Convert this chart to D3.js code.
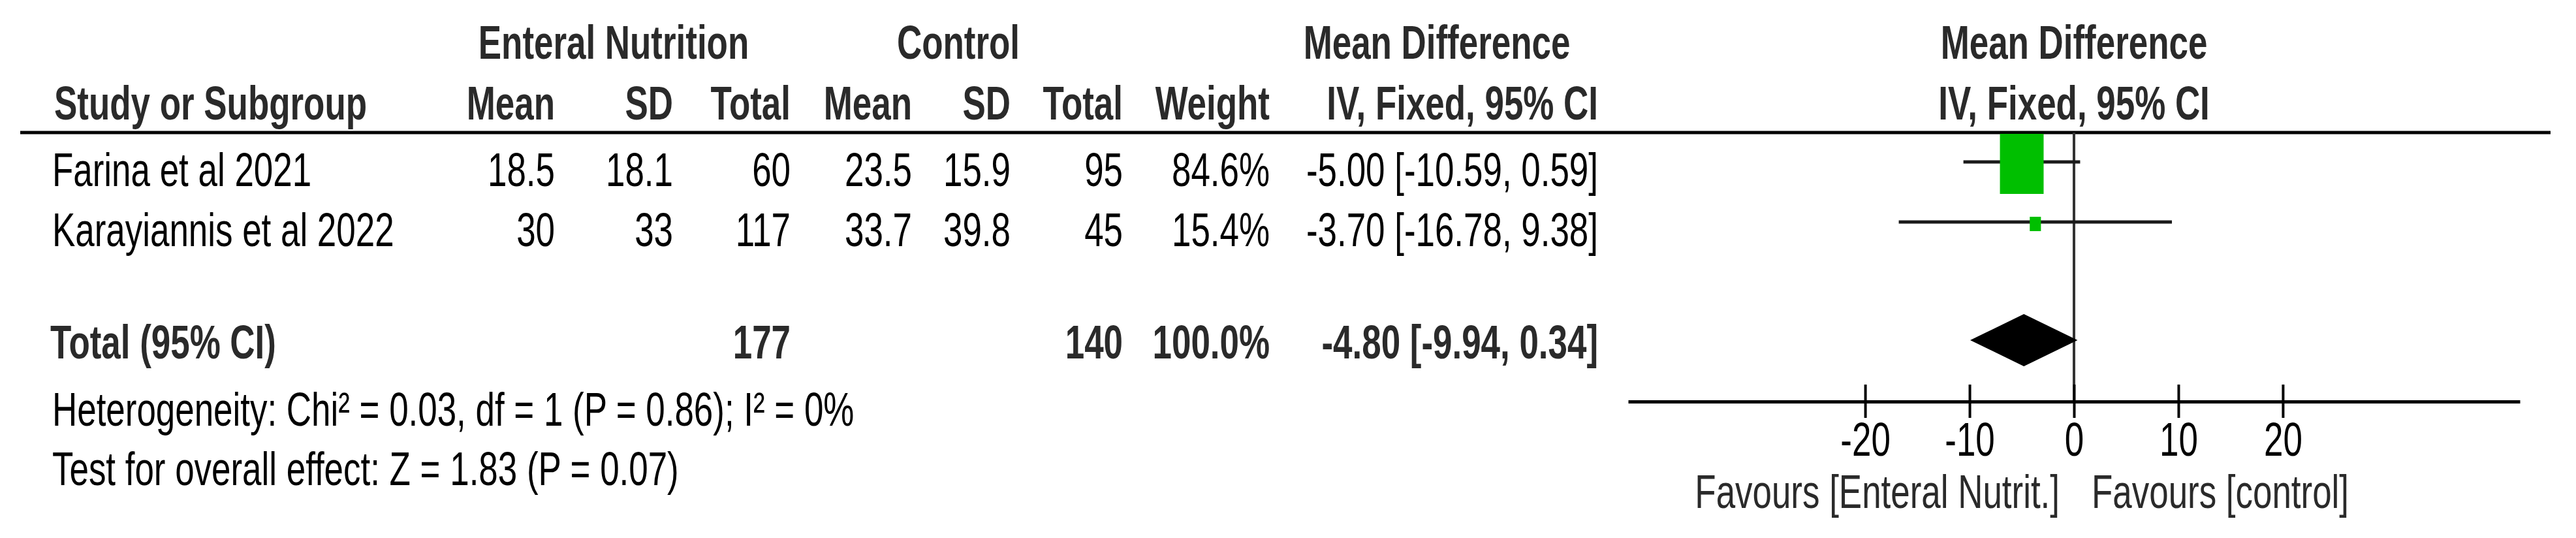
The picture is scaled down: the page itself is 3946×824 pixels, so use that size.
<!DOCTYPE html>
<html>
<head>
<meta charset="utf-8">
<script src="https://cdn.jsdelivr.net/npm/d3@7"></script>
<style>
  html, body { margin: 0; padding: 0; background: #fff; }
  svg text { font-family: "Liberation Sans", Arial, sans-serif; font-size: 72px; }
</style>
</head>
<body>
<svg id="chart"></svg>
<script>
//----------------------------//
//            DATA            //
//----------------------------//
const studies = ["Farina et al 2021", "Karayiannis et al 2022"];
const enMean = [18.5, 30];
const enSD = [18.1, 33];
const enTotal = [60, 117];
const ctMean = [23.5, 33.7];
const ctSD = [15.9, 39.8];
const ctTotal = [95, 45];
const weights = [84.6, 15.4];
const meanDiff = [-5.00, -3.70];
const ciLow = [-10.59, -16.78];
const ciHigh = [0.59, 9.38];

const totalLabel = "Total (95% CI)";
const totalEN = 177;
const totalCT = 140;
const totalWeight = 100.0;
const totalMD = -4.80;
const totalLow = -9.94;
const totalHigh = 0.34;

const heterogeneityText = "Heterogeneity: Chi\u00B2 = 0.03, df = 1 (P = 0.86); I\u00B2 = 0%";
const overallText = "Test for overall effect: Z = 1.83 (P = 0.07)";

const tickValues = [-20, -10, 0, 10, 20];
const favoursLeft = "Favours [Enteral Nutrit.]";
const favoursRight = "Favours [control]";

//----------------------------//
//           LAYOUT           //
//----------------------------//
const W = 3946, H = 824;
const SX = 0.735;   // narrow the font horizontally
const headColor = "#2a2a2a";

const svg = d3.select("#chart").attr("width", W).attr("height", H);
svg.append("rect").attr("width", W).attr("height", H).attr("fill", "#fff");

const txt = (x, y, s, anchor = "start", bold = false, color = "#000") =>
    svg.append("text")
        .attr("transform", `translate(${x},${y}) scale(${SX},1)`)
        .attr("text-anchor", anchor)
        .attr("font-weight", bold ? 700 : 400)
        .attr("fill", color)
        .text(s);

const fmt2 = v => v.toFixed(2);
const ciText = (m, lo, hi) => `${fmt2(m)} [${fmt2(lo)}, ${fmt2(hi)}]`;

// table columns (right aligned)
const cols = ["enMean", "enSD", "enTotal", "ctMean", "ctSD", "ctTotal", "weight", "ci"];
const colX = d3.scaleOrdinal().domain(cols).range([850, 1031, 1211, 1397, 1548, 1720, 1945, 2448]);

// row baselines
const rowY = d3.scaleLinear().domain([0, 1]).range([285, 377]);
const totalY = 549;

// forest plot scale
const x = d3.scaleLinear().domain([-42.7, 42.7]).range([2494, 3860]);
const boxW = d3.scaleLinear().domain([0, 100]).range([6, 78]);
const boxH = d3.scaleLinear().domain([0, 100]).range([6.4, 107.6]);
const headerLineY = 203;
const axisY = 615;

//----------------------------//
//           HEADERS          //
//----------------------------//
txt(940, 90, "Enteral Nutrition", "middle", true, headColor);
txt(1468, 90, "Control", "middle", true, headColor);
txt(2201, 90, "Mean Difference", "middle", true, headColor);
txt(x(0), 90, "Mean Difference", "middle", true, headColor);

txt(83, 183, "Study or Subgroup", "start", true, headColor);
txt(colX("enMean"), 183, "Mean", "end", true, headColor);
txt(colX("enSD"), 183, "SD", "end", true, headColor);
txt(colX("enTotal"), 183, "Total", "end", true, headColor);
txt(colX("ctMean"), 183, "Mean", "end", true, headColor);
txt(colX("ctSD"), 183, "SD", "end", true, headColor);
txt(colX("ctTotal"), 183, "Total", "end", true, headColor);
txt(colX("weight"), 183, "Weight", "end", true, headColor);
txt(colX("ci"), 183, "IV, Fixed, 95% CI", "end", true, headColor);
txt(x(0), 183, "IV, Fixed, 95% CI", "middle", true, headColor);

svg.append("line")
    .attr("x1", 31).attr("x2", 3907)
    .attr("y1", headerLineY).attr("y2", headerLineY)
    .attr("stroke", "#000").attr("stroke-width", 5);

//----------------------------//
//         STUDY ROWS         //
//----------------------------//
studies.forEach((s, i) => {
    const y = rowY(i);
    txt(80, y, s);
    txt(colX("enMean"), y, String(enMean[i]), "end");
    txt(colX("enSD"), y, String(enSD[i]), "end");
    txt(colX("enTotal"), y, String(enTotal[i]), "end");
    txt(colX("ctMean"), y, String(ctMean[i]), "end");
    txt(colX("ctSD"), y, String(ctSD[i]), "end");
    txt(colX("ctTotal"), y, String(ctTotal[i]), "end");
    txt(colX("weight"), y, weights[i].toFixed(1) + "%", "end");
    txt(colX("ci"), y, ciText(meanDiff[i], ciLow[i], ciHigh[i]), "end");
});

// total row
txt(77, totalY, totalLabel, "start", true, headColor);
txt(colX("enTotal"), totalY, String(totalEN), "end", true, headColor);
txt(colX("ctTotal"), totalY, String(totalCT), "end", true, headColor);
txt(colX("weight"), totalY, totalWeight.toFixed(1) + "%", "end", true, headColor);
txt(colX("ci"), totalY, ciText(totalMD, totalLow, totalHigh), "end", true, headColor);

txt(80, 652, heterogeneityText);
txt(80, 743, overallText);

//----------------------------//
//         FOREST PLOT        //
//----------------------------//
const plot = svg.append("g");

// line of no effect
plot.append("line")
    .attr("x1", x(0)).attr("x2", x(0))
    .attr("y1", headerLineY).attr("y2", axisY)
    .attr("stroke", "#333").attr("stroke-width", 4);

const rows = studies.map((s, i) => ({
    md: meanDiff[i], lo: ciLow[i], hi: ciHigh[i], w: weights[i], y: rowY(i) - 37
}));

plot.selectAll(".ci")
    .data(rows)
    .enter()
    .append("line")
    .attr("class", "ci")
    .attr("x1", d => x(d.lo))
    .attr("x2", d => x(d.hi))
    .attr("y1", d => d.y)
    .attr("y2", d => d.y)
    .attr("stroke", "#1a1a1a")
    .attr("stroke-width", 5);

plot.selectAll(".box")
    .data(rows)
    .enter()
    .append("rect")
    .attr("class", "box")
    .attr("x", d => x(d.md) - boxW(d.w) / 2)
    .attr("y", d => d.y + 3 - boxH(d.w) / 2)
    .attr("width", d => boxW(d.w))
    .attr("height", d => boxH(d.w))
    .attr("fill", "#00bf00");

// pooled diamond
const dy = totalY - 28;
plot.append("path")
    .datum({ md: totalMD, lo: totalLow, hi: totalHigh })
    .attr("d", d => `M${x(d.lo)},${dy}L${x(d.md)},${dy - 40}L${x(d.hi)},${dy}L${x(d.md)},${dy + 40}Z`)
    .attr("fill", "#000");

// axis
const axis = plot.append("g")
    .attr("transform", `translate(0,${axisY})`)
    .call(d3.axisBottom(x)
        .tickValues(tickValues)
        .tickSizeOuter(0)
        .tickFormat(d => String(d)));

axis.select(".domain").attr("stroke", "#000").attr("stroke-width", 5);
axis.selectAll(".tick line")
    .attr("y1", -26).attr("y2", 25)
    .attr("stroke", "#000").attr("stroke-width", 4);
axis.selectAll(".tick text")
    .attr("y", 83).attr("dy", null)
    .attr("transform", `scale(${SX},1)`)
    .attr("fill", "#000")
    .style("font-family", "Liberation Sans, Arial, sans-serif")
    .style("font-size", "72px");

txt(x(0) - 22, 778, favoursLeft, "end", false, headColor);
txt(x(0) + 27, 778, favoursRight, "start", false, headColor);
</script>
</body>
</html>
